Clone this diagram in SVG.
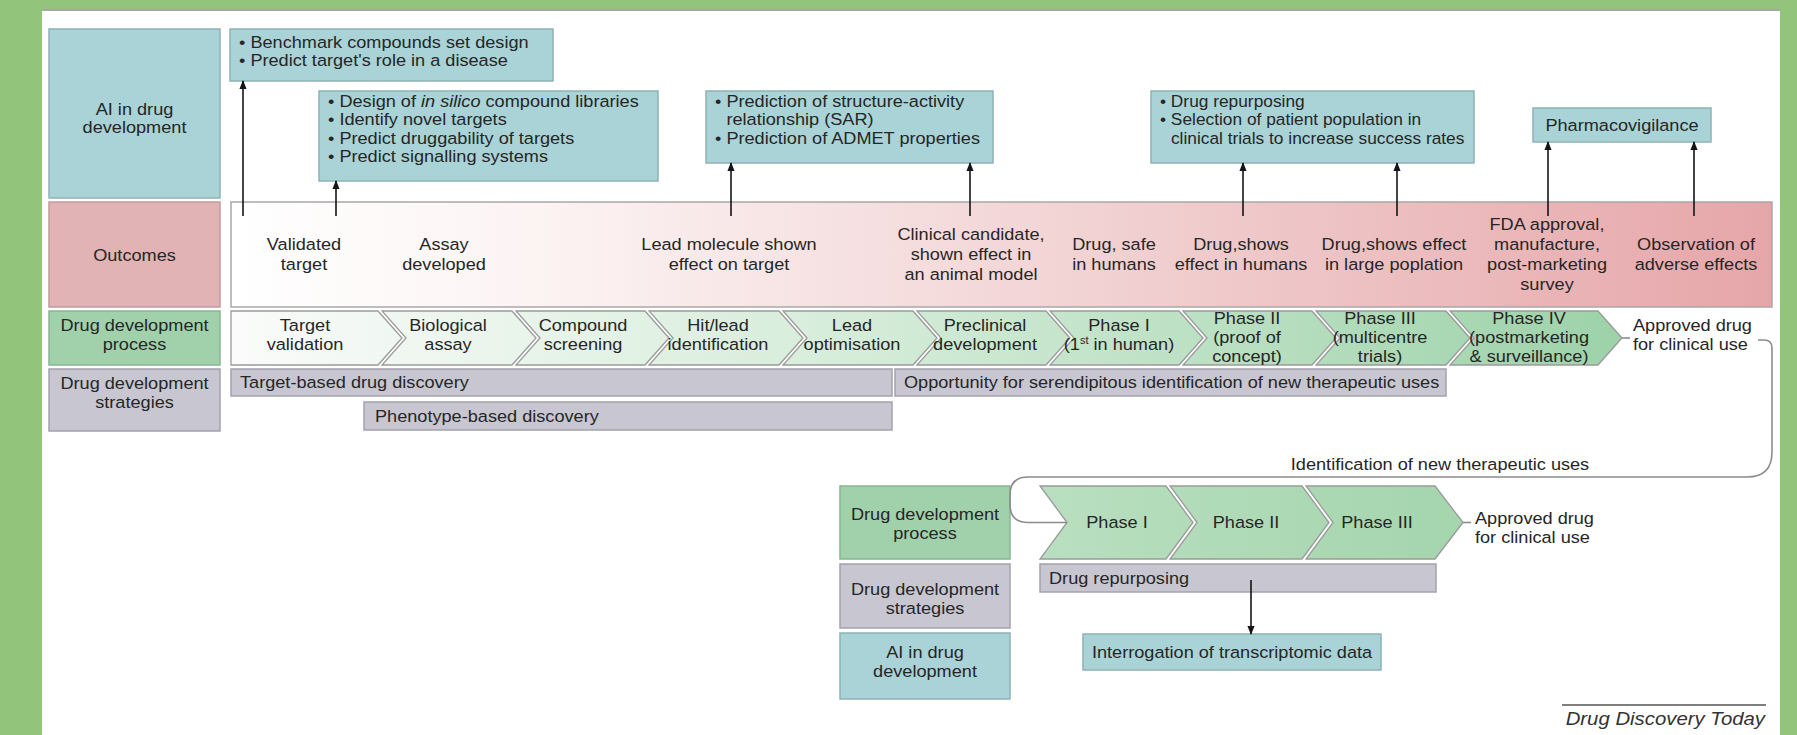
<svg xmlns="http://www.w3.org/2000/svg" width="1797" height="735" viewBox="0 0 1797 735">
<style>
.t{font-family:"Liberation Sans",Arial,Helvetica,sans-serif;font-size:16.5px;fill:#262626}
.c{text-anchor:middle}
.it{font-style:italic}
.ai{fill:#a9d3d6;stroke:#8eb2b5;stroke-width:1.5}
.oc{fill:#e2b3b5;stroke:#c49b9d;stroke-width:1.5}
.pr{fill:#a0d1ab;stroke:#8ab494;stroke-width:1.5}
.st{fill:#c7c6d1;stroke:#a3a2ad;stroke-width:1.5}
.chev{fill:url(#gProc);stroke:#9a9a9a;stroke-width:1.3}
.chev2{fill:url(#gProc2);stroke:#9a9a9a;stroke-width:1.3}
.arr{stroke:#151515;stroke-width:1.6;fill:none}
.loop{stroke:#8c8c8c;stroke-width:1.6;fill:none}
</style>
<defs>
<linearGradient id="gOut" gradientUnits="userSpaceOnUse" x1="231" y1="0" x2="1772" y2="0">
<stop offset="0" stop-color="#ffffff"/>
<stop offset="0.2" stop-color="#fcf3f3"/>
<stop offset="0.55" stop-color="#f2d3d4"/>
<stop offset="1" stop-color="#e6a6a9"/>
</linearGradient>
<linearGradient id="gProc" gradientUnits="userSpaceOnUse" x1="231" y1="0" x2="1622" y2="0">
<stop offset="0" stop-color="#fafbfa"/>
<stop offset="0.45" stop-color="#d5ecd9"/>
<stop offset="1" stop-color="#9dd2a9"/>
</linearGradient>
<linearGradient id="gProc2" gradientUnits="userSpaceOnUse" x1="1040" y1="0" x2="1463" y2="0">
<stop offset="0" stop-color="#b9dfc0"/>
<stop offset="1" stop-color="#a4d5ad"/>
</linearGradient>
<marker id="ah" viewBox="0 0 10 10" refX="9" refY="5" markerWidth="9" markerHeight="9" markerUnits="userSpaceOnUse" orient="auto">
<path d="M0,1 L10,5 L0,9 z" fill="#151515"/>
</marker>
</defs>

<g id="frame">
<rect x="0" y="0" width="1797" height="735" fill="#92c47c"/>
<rect x="42" y="9" width="1738" height="726" fill="#ffffff"/>
<line x1="42" y1="10" x2="1780" y2="10" stroke="#8a8a8a" stroke-width="1.5"/>
</g>

<g id="label-ai">
<rect class="ai" x="49" y="29" width="171" height="169"/>
<text class="t c" transform="matrix(1.1 0 0 1 134.5 0)"><tspan x="0" y="115">AI in drug</tspan><tspan x="0" y="133">development</tspan></text>
</g>
<g id="label-outcomes">
<rect class="oc" x="49" y="202" width="171" height="105"/>
<text class="t c" transform="matrix(1.1 0 0 1 134.5 0)"><tspan x="0" y="261">Outcomes</tspan></text>
</g>
<g id="label-process">
<rect class="pr" x="49" y="311" width="171" height="54"/>
<text class="t c" transform="matrix(1.1 0 0 1 134.5 0)"><tspan x="0" y="331">Drug development</tspan><tspan x="0" y="350">process</tspan></text>
</g>
<g id="label-strategies">
<rect class="st" x="49" y="369" width="171" height="62"/>
<text class="t c" transform="matrix(1.1 0 0 1 134.5 0)"><tspan x="0" y="389">Drug development</tspan><tspan x="0" y="408">strategies</tspan></text>
</g>

<g id="ai-box-1">
<rect class="ai" x="230" y="29" width="323" height="52"/>
<text class="t" transform="matrix(1.1 0 0 1 239 0)"><tspan x="0" y="48">• Benchmark compounds set design</tspan><tspan x="0" y="66.5">• Predict target's role in a disease</tspan></text>
</g>
<g id="ai-box-2">
<rect class="ai" x="319" y="91" width="339" height="90"/>
<text class="t" transform="matrix(1.1 0 0 1 328 0)"><tspan x="0" y="107">• Design of <tspan class="it">in silico</tspan> compound libraries</tspan><tspan x="0" y="125.5">• Identify novel targets</tspan><tspan x="0" y="144">• Predict druggability of targets</tspan><tspan x="0" y="162.5">• Predict signalling systems</tspan></text>
</g>
<g id="ai-box-3">
<rect class="ai" x="706" y="91" width="287" height="72"/>
<text class="t" transform="matrix(1.1 0 0 1 715 0)"><tspan x="0" y="107">• Prediction of structure-activity</tspan><tspan x="10.4" y="125.5">relationship (SAR)</tspan><tspan x="0" y="144">• Prediction of ADMET properties</tspan></text>
</g>
<g id="ai-box-4">
<rect class="ai" x="1151" y="91" width="323" height="72"/>
<text class="t" transform="matrix(1.05 0 0 1 1160 0)"><tspan x="0" y="107">• Drug repurposing</tspan><tspan x="0" y="125.5">• Selection of patient population in</tspan><tspan x="10.4" y="144">clinical trials to increase success rates</tspan></text>
</g>
<g id="ai-box-5">
<rect class="ai" x="1533" y="108" width="178" height="34"/>
<text class="t c" transform="matrix(1.1 0 0 1 1622 0)"><tspan x="0" y="131">Pharmacovigilance</tspan></text>
</g>

<g id="outcomes">
<rect x="231" y="202" width="1541" height="105" fill="url(#gOut)" stroke="#a8a8a8" stroke-width="1.5"/>
<text class="t c" transform="matrix(1.1 0 0 1 304 0)"><tspan x="0" y="250.5">Validated</tspan><tspan x="0" y="270.5">target</tspan></text>
<text class="t c" transform="matrix(1.1 0 0 1 444 0)"><tspan x="0" y="250.5">Assay</tspan><tspan x="0" y="270.5">developed</tspan></text>
<text class="t c" transform="matrix(1.1 0 0 1 729 0)"><tspan x="0" y="250.5">Lead molecule shown</tspan><tspan x="0" y="270.5">effect on target</tspan></text>
<text class="t c" transform="matrix(1.1 0 0 1 971 0)"><tspan x="0" y="240.5">Clinical candidate,</tspan><tspan x="0" y="260.5">shown effect in</tspan><tspan x="0" y="280.5">an animal model</tspan></text>
<text class="t c" transform="matrix(1.1 0 0 1 1114 0)"><tspan x="0" y="250.5">Drug, safe</tspan><tspan x="0" y="270.5">in humans</tspan></text>
<text class="t c" transform="matrix(1.1 0 0 1 1241 0)"><tspan x="0" y="250.5">Drug,shows</tspan><tspan x="0" y="270.5">effect in humans</tspan></text>
<text class="t c" transform="matrix(1.1 0 0 1 1394 0)"><tspan x="0" y="250.5">Drug,shows effect</tspan><tspan x="0" y="270.5">in large poplation</tspan></text>
<text class="t c" transform="matrix(1.1 0 0 1 1547 0)"><tspan x="0" y="230.5">FDA approval,</tspan><tspan x="0" y="250.5">manufacture,</tspan><tspan x="0" y="270.5">post-marketing</tspan><tspan x="0" y="290.5">survey</tspan></text>
<text class="t c" transform="matrix(1.1 0 0 1 1696 0)"><tspan x="0" y="250.5">Observation of</tspan><tspan x="0" y="270.5">adverse effects</tspan></text>
</g>

<g id="process">
<polygon class="chev" points="231,311 378,311 402,338 378,365 231,365"/>
<polygon class="chev" points="382,311 512,311 536,338 512,365 382,365 406,338"/>
<polygon class="chev" points="516,311 645,311 669,338 645,365 516,365 540,338"/>
<polygon class="chev" points="649,311 779,311 803,338 779,365 649,365 673,338"/>
<polygon class="chev" points="783,311 913,311 937,338 913,365 783,365 807,338"/>
<polygon class="chev" points="917,311 1046,311 1070,338 1046,365 917,365 941,338"/>
<polygon class="chev" points="1050,311 1179,311 1203,338 1179,365 1050,365 1074,338"/>
<polygon class="chev" points="1183,311 1312,311 1336,338 1312,365 1183,365 1207,338"/>
<polygon class="chev" points="1316,311 1446,311 1470,338 1446,365 1316,365 1340,338"/>
<polygon class="chev" points="1450,311 1598,311 1622,338 1598,365 1450,365 1474,338"/>
<text class="t c" transform="matrix(1.1 0 0 1 305 0)"><tspan x="0" y="331">Target</tspan><tspan x="0" y="350">validation</tspan></text>
<text class="t c" transform="matrix(1.1 0 0 1 448 0)"><tspan x="0" y="331">Biological</tspan><tspan x="0" y="350">assay</tspan></text>
<text class="t c" transform="matrix(1.1 0 0 1 583 0)"><tspan x="0" y="331">Compound</tspan><tspan x="0" y="350">screening</tspan></text>
<text class="t c" transform="matrix(1.1 0 0 1 718 0)"><tspan x="0" y="331">Hit/lead</tspan><tspan x="0" y="350">identification</tspan></text>
<text class="t c" transform="matrix(1.1 0 0 1 852 0)"><tspan x="0" y="331">Lead</tspan><tspan x="0" y="350">optimisation</tspan></text>
<text class="t c" transform="matrix(1.1 0 0 1 985 0)"><tspan x="0" y="331">Preclinical</tspan><tspan x="0" y="350">development</tspan></text>
<text class="t c" transform="matrix(1.1 0 0 1 1119 0)"><tspan x="0" y="331">Phase I</tspan><tspan x="0" y="350">(1<tspan font-size="10" dy="-6">st</tspan><tspan dy="6"> in human)</tspan></tspan></text>
<text class="t c" transform="matrix(1.1 0 0 1 1247 0)"><tspan x="0" y="324">Phase II</tspan><tspan x="0" y="343">(proof of</tspan><tspan x="0" y="362">concept)</tspan></text>
<text class="t c" transform="matrix(1.1 0 0 1 1380 0)"><tspan x="0" y="324">Phase III</tspan><tspan x="0" y="343">(multicentre</tspan><tspan x="0" y="362">trials)</tspan></text>
<text class="t c" transform="matrix(1.1 0 0 1 1529 0)"><tspan x="0" y="324">Phase IV</tspan><tspan x="0" y="343">(postmarketing</tspan><tspan x="0" y="362">&amp; surveillance)</tspan></text>
</g>

<g id="approved-1">
<text class="t" transform="matrix(1.1 0 0 1 1633 0)"><tspan x="0" y="331">Approved drug</tspan><tspan x="0" y="350">for clinical use</tspan></text>
</g>

<g id="strategy-target-based">
<rect class="st" x="231" y="369" width="661" height="27"/>
<text class="t" transform="matrix(1.1 0 0 1 240 0)"><tspan x="0" y="388.5">Target-based drug discovery</tspan></text>
</g>
<g id="strategy-phenotype">
<rect class="st" x="364" y="402" width="528" height="28"/>
<text class="t" transform="matrix(1.1 0 0 1 375 0)"><tspan x="0" y="422">Phenotype-based discovery</tspan></text>
</g>
<g id="strategy-serendipitous">
<rect class="st" x="895" y="369" width="551" height="27"/>
<text class="t" transform="matrix(1.1 0 0 1 904 0)"><tspan x="0" y="388.5">Opportunity for serendipitous identification of new therapeutic uses</tspan></text>
</g>

<g id="label2-process">
<rect class="pr" x="840" y="486" width="170" height="73"/>
<text class="t c" transform="matrix(1.1 0 0 1 925 0)"><tspan x="0" y="520">Drug development</tspan><tspan x="0" y="539.5">process</tspan></text>
</g>
<g id="label2-strategies">
<rect class="st" x="840" y="564" width="170" height="64"/>
<text class="t c" transform="matrix(1.1 0 0 1 925 0)"><tspan x="0" y="595">Drug development</tspan><tspan x="0" y="614.5">strategies</tspan></text>
</g>
<g id="label2-ai">
<rect class="ai" x="840" y="633" width="170" height="66"/>
<text class="t c" transform="matrix(1.1 0 0 1 925 0)"><tspan x="0" y="658">AI in drug</tspan><tspan x="0" y="677.5">development</tspan></text>
</g>

<g id="process-2">
<polygon class="chev2" points="1040,486 1166,486 1193,522.5 1166,559 1040,559 1067,522.5"/>
<polygon class="chev2" points="1170,486 1302,486 1329,522.5 1302,559 1170,559 1197,522.5"/>
<polygon class="chev2" points="1306,486 1435,486 1463,522.5 1435,559 1306,559 1333,522.5"/>
<text class="t c" transform="matrix(1.1 0 0 1 1117 0)"><tspan x="0" y="528.5">Phase I</tspan></text>
<text class="t c" transform="matrix(1.1 0 0 1 1246 0)"><tspan x="0" y="528.5">Phase II</tspan></text>
<text class="t c" transform="matrix(1.1 0 0 1 1377 0)"><tspan x="0" y="528.5">Phase III</tspan></text>
</g>
<g id="approved-2">
<text class="t" transform="matrix(1.1 0 0 1 1475 0)"><tspan x="0" y="524">Approved drug</tspan><tspan x="0" y="543">for clinical use</tspan></text>
</g>
<g id="strategy-repurposing">
<rect class="st" x="1040" y="564" width="396" height="28"/>
<text class="t" transform="matrix(1.1 0 0 1 1049 0)"><tspan x="0" y="584">Drug repurposing</tspan></text>
</g>
<g id="ai-transcriptomic">
<rect class="ai" x="1083" y="634" width="298" height="36"/>
<text class="t c" transform="matrix(1.1 0 0 1 1232 0)"><tspan x="0" y="658">Interrogation of transcriptomic data</tspan></text>
</g>

<g id="connectors">
<line class="arr" x1="243" y1="216" x2="243" y2="81" marker-end="url(#ah)"/>
<line class="arr" x1="336" y1="216" x2="336" y2="181" marker-end="url(#ah)"/>
<line class="arr" x1="731" y1="216" x2="731" y2="163" marker-end="url(#ah)"/>
<line class="arr" x1="970" y1="216" x2="970" y2="163" marker-end="url(#ah)"/>
<line class="arr" x1="1243" y1="216" x2="1243" y2="163" marker-end="url(#ah)"/>
<line class="arr" x1="1397" y1="216" x2="1397" y2="163" marker-end="url(#ah)"/>
<line class="arr" x1="1548" y1="216" x2="1548" y2="142" marker-end="url(#ah)"/>
<line class="arr" x1="1694" y1="216" x2="1694" y2="142" marker-end="url(#ah)"/>
<line class="arr" x1="1251" y1="580" x2="1251" y2="634" marker-end="url(#ah)"/>
<line class="loop" x1="1622" y1="338" x2="1630" y2="338"/>
<line class="loop" x1="1463" y1="522.5" x2="1471" y2="522.5"/>
<path class="loop" d="M1758 340 H1764 Q1772 340 1772 348 V452 Q1772 477 1747 477 H1028 Q1010 477 1010 495 V504.5 Q1010 522.5 1028 522.5 H1067"/>
<text class="t c" transform="matrix(1.1 0 0 1 1440 0)"><tspan x="0" y="470">Identification of new therapeutic uses</tspan></text>
</g>

<g id="credit">
<line x1="1562" y1="705" x2="1766" y2="705" stroke="#555" stroke-width="1.3"/>
<text class="t it" style="font-size:18.5px;text-anchor:end;fill:#333" transform="matrix(1.1 0 0 1 1765 0)"><tspan x="0" y="725">Drug Discovery Today</tspan></text>
</g>
</svg>
